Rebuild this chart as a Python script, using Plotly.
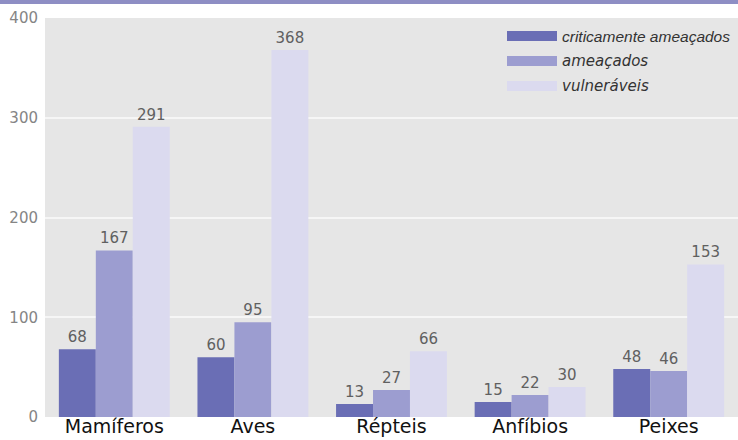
"""
Espécies ameaçadas por grupo - gráfico de barras agrupadas
"""
import plotly.graph_objects as go

# Dados
GRUPOS = ['Mamíferos', 'Aves', 'Répteis', 'Anfíbios', 'Peixes']
CRITICAMENTE = [68, 60, 13, 15, 48]
AMEACADOS = [167, 95, 27, 22, 46]
VULNERAVEIS = [291, 368, 66, 30, 153]
Y_TICKS = [0, 100, 200, 300, 400]

SERIES = [
    ('criticamente ameaçados', CRITICAMENTE, '#6a6eb5'),
    ('ameaçados', AMEACADOS, '#9c9dd0'),
    ('vulneráveis', VULNERAVEIS, '#dbdaef'),
]

W, H = 738, 440
ML, MR, MT, MB = 45, 0, 18, 23
PW, PH = W - ML - MR, H - MT - MB

fig = go.Figure()

for name, values, color in SERIES:
    fig.add_trace(go.Bar(
        x=GRUPOS,
        y=values,
        name=name,
        marker=dict(color=color, line=dict(width=0)),
        text=values,
        textposition='outside',
        textfont=dict(family='DejaVu Sans', size=15, color='#606060'),
        cliponaxis=False,
        showlegend=False,
    ))

# faixa roxa no topo
fig.add_shape(type='rect', xref='paper', yref='paper',
              x0=-ML / PW, x1=1.0, y0=1 + (MT - 4) / PH, y1=1 + MT / PH,
              fillcolor='#8e8ec4', line=dict(width=0), layer='above')

# legenda desenhada à mão (amostras largas como no original)
legend_fonts = ['Liberation Sans', 'DejaVu Sans', 'DejaVu Sans']
legend_sizes = [15.5, 15, 15]
for i, (name, _, color) in enumerate(SERIES):
    yc = 1 - (36 + 25 * i - MT) / PH
    fig.add_shape(type='rect', xref='paper', yref='paper',
                  x0=(507 - ML) / PW, x1=(557 - ML) / PW,
                  y0=yc - 5 / PH, y1=yc + 5 / PH,
                  fillcolor=color, line=dict(width=0))
    fig.add_annotation(xref='paper', yref='paper',
                       x=(560 - ML) / PW, y=yc, xanchor='left', yanchor='middle',
                       text=name, showarrow=False,
                       font=dict(family=legend_fonts[i], size=legend_sizes[i],
                                 color='#333333', style='italic'))

fig.update_layout(
    width=W,
    height=H,
    margin=dict(l=ML, r=MR, t=MT, b=MB),
    paper_bgcolor='white',
    plot_bgcolor='#e6e6e6',
    barmode='group',
    bargap=0.2,
    bargroupgap=0,
    showlegend=False,
    font=dict(family='DejaVu Sans'),
)

fig.update_yaxes(
    range=[0, 400],
    tickvals=Y_TICKS,
    showgrid=True,
    gridcolor='#f6f6f6',
    gridwidth=2,
    zeroline=False,
    tickfont=dict(family='DejaVu Sans', size=15, color='#858585'),
    ticks='',
    ticklabelstandoff=6,
    automargin=False,
)

fig.update_xaxes(
    tickfont=dict(family='DejaVu Sans', size=19, color='#111111'),
    ticks='',
    showgrid=False,
    automargin=False,
    ticklabelstandoff=-4,
)

# tira a margem padrão do <body> para a figura ocupar a janela toda
fig.write_html('out.html', config={'displayModeBar': False},
               post_script="document.body.style.margin='0';")
